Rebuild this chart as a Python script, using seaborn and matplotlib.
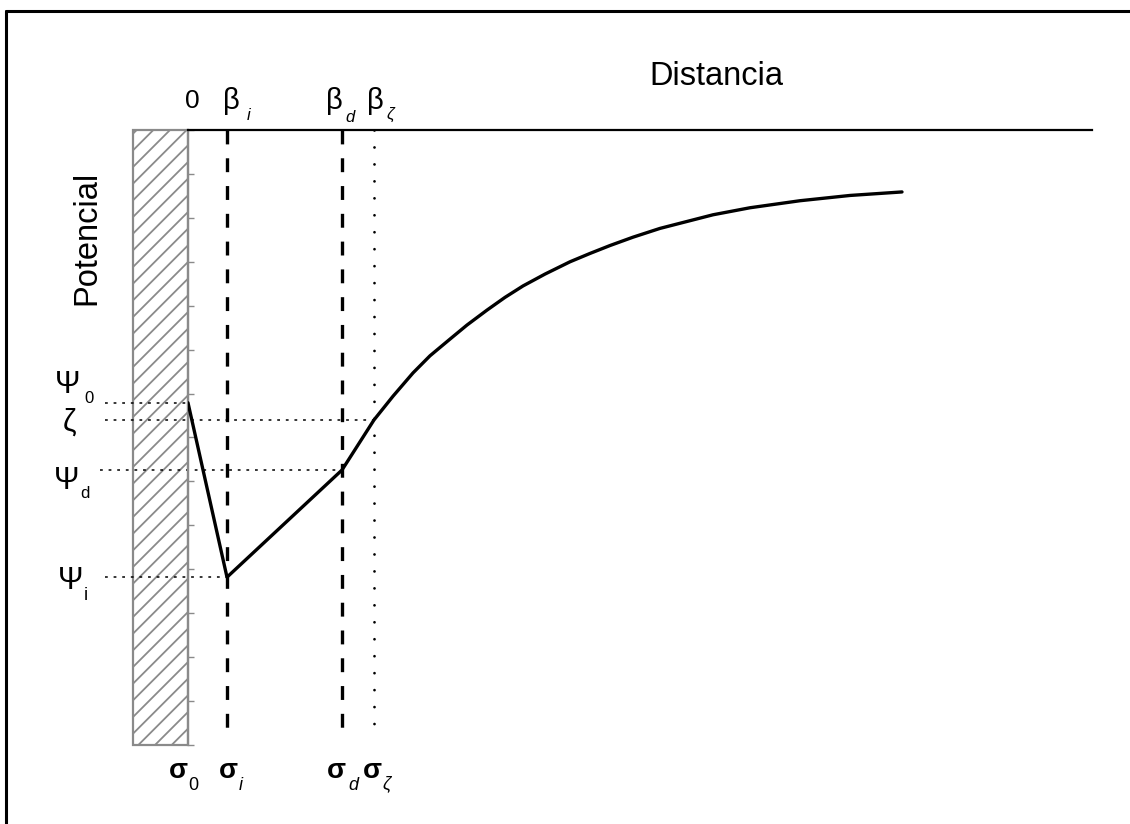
import matplotlib
matplotlib.use("Agg")
import matplotlib.pyplot as plt
import seaborn as sns
import pandas as pd
from matplotlib.patches import Rectangle
from matplotlib.lines import Line2D

# ---------------- data ----------------
# potential profile: wall (0) -> inner plane -> diffuse plane -> shear plane -> bulk
dist_curve = [0.0, 3.9, 15.4, 18.6, 20.5, 22.5, 24.2, 26.2, 27.9, 29.9, 31.7, 33.5,
              35.7, 38.2, 40.2, 42.2, 44.5, 47.2, 52.5, 56.2, 61.2, 66.2, 71.4]
pot_curve = [-6.21, -10.18, -7.74, -6.60, -6.06, -5.53, -5.14, -4.76, -4.44, -4.10, -3.81, -3.55,
             -3.28, -3.00, -2.81, -2.63, -2.44, -2.24, -1.93, -1.77, -1.61, -1.49, -1.41]

# planes β_i, β_d, β_ζ
plane_x = [3.9, 15.4, 18.6]
plane_bottom = [-13.77, -13.77, -13.84]
plane_dotted = [False, False, True]

# potential levels Ψ0, ζ, Ψd, Ψi
level_values = [-6.21, -6.60, -7.74, -10.18]
level_end_x = [0.0, 18.6, 15.4, 3.9]
level_start_x = [-8.3, -8.3, -8.8, -8.3]

y_ticks = list(range(0, -15, -1))
wall_x = -5.5
x_max = 90.4
y_min = -14.0

# ---------------- style ----------------
sns.set_theme(style="white")
plt.rcParams["font.family"] = ["Liberation Sans", "DejaVu Sans"]
plt.rcParams["lines.scale_dashes"] = False
plt.rcParams["hatch.linewidth"] = 1.3

W, H = 1130, 824
fig = plt.figure(figsize=(W / 100, H / 100), dpi=100)
fig.patch.set_facecolor("white")
ax = fig.add_axes([188 / W, 1 - 745 / H, (1092 - 188) / W, (745 - 130) / H])
ax.set_facecolor("white")

# wall (hatched)
wall = Rectangle((wall_x, y_min), -wall_x, -y_min, facecolor="white",
                 edgecolor="#8a8a8a", hatch="//", lw=1.6, clip_on=False, zorder=1)
ax.add_patch(wall)

# guide lines for potential levels
for xs, xe, v in zip(level_start_x, level_end_x, level_values):
    ax.plot([xs, xe], [v, v], color="black", lw=1.1, linestyle=(0, (2.0, 4.2)),
            clip_on=False, zorder=2)

# vertical planes
for x, yb, dotted in zip(plane_x, plane_bottom, plane_dotted):
    if dotted:
        ax.plot([x, x], [0, yb], color="black", lw=2.0, linestyle=(0, (0.01, 12.2)),
                dash_capstyle="round", zorder=2)
    else:
        ax.plot([x, x], [0, yb], color="black", lw=2.4, linestyle=(0, (10, 10)),
                dash_capstyle="butt", zorder=2)

# potential curve
df = pd.DataFrame({"Distancia": dist_curve, "Potencial": pot_curve})
sns.lineplot(data=df, x="Distancia", y="Potencial", sort=False, estimator=None,
             color="black", lw=2.4, ax=ax, zorder=3)

ax.set_xlim(0, x_max)
ax.set_ylim(y_min, 0)
ax.set_xlabel("")
ax.set_ylabel("")
ax.set_xticks([])
ax.set_yticks(y_ticks)
ax.tick_params(axis="y", left=True, direction="in", length=4, width=1,
               color="#8a8a8a", labelleft=False)
for s in ["right", "bottom"]:
    ax.spines[s].set_visible(False)
ax.spines["top"].set_color("black")
ax.spines["top"].set_linewidth(1.6)
ax.spines["left"].set_color("#8a8a8a")
ax.spines["left"].set_linewidth(1.6)

# outer frame (top and left only visible)
fig.add_artist(Line2D([6 / W, 6 / W], [0, 1 - 11 / H], transform=fig.transFigure,
                      color="black", lw=2.2))
fig.add_artist(Line2D([6 / W, 1], [1 - 11 / H, 1 - 11 / H], transform=fig.transFigure,
                      color="black", lw=2.2))


def T(x, y, s, size, va="baseline", **kw):
    fig.text(x / W, 1 - y / H, s, ha="center", va=va, fontsize=size, color="black", **kw)


# axis titles
T(716, 85, "Distancia", 23.5)
T(87, 238, "Potencial", 23.5, va="center", rotation=90)

# top plane labels
T(192, 108, "0", 19)
T(231, 109, "β", 21)
T(249, 120, "i", 12, style="italic")
T(334, 109, "β", 21)
T(350, 122, "d", 12, style="italic")
T(375, 109, "β", 21)
T(390, 119, "ζ", 12, style="italic")

# potential level labels
T(68, 393, "Ψ", 22)
T(89, 403, "0", 12)
T(70, 431, "ζ", 22)
T(67, 489, "Ψ", 22)
T(85, 498, "d", 12)
T(71, 589, "Ψ", 22)
T(86, 600, "i", 13)

# charge labels
T(178, 778, "σ", 20, fontweight="bold")
T(193, 790, "0", 13)
T(228, 778, "σ", 20, fontweight="bold")
T(241, 790, "i", 13, style="italic")
T(336, 778, "σ", 20, fontweight="bold")
T(353, 790, "d", 13, style="italic")
T(372, 778, "σ", 20, fontweight="bold")
T(387, 788, "ζ", 13, style="italic")

fig.savefig("out.png", dpi=100, facecolor="white")
